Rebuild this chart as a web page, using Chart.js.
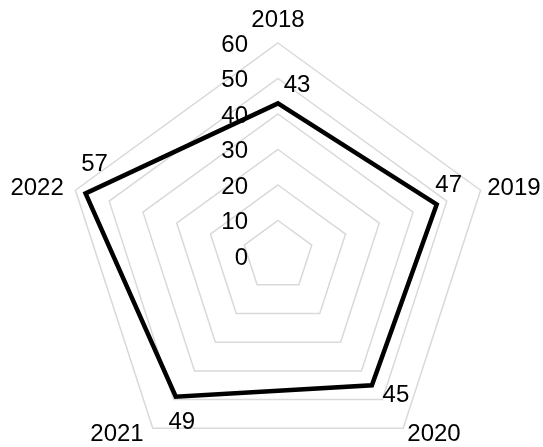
<!DOCTYPE html>
<html>
<head>
<meta charset="utf-8">
<script src="https://cdn.jsdelivr.net/npm/chart.js@4/dist/chart.umd.min.js"></script>
<style>
  html, body { margin: 0; padding: 0; background: #fff; overflow: hidden; }
  #wrap { width: 543px; height: 470px; position: relative; }
</style>
</head>
<body>
<div id="wrap"><canvas id="chart"></canvas></div>
<script>
const years = ['2018', '2019', '2020', '2021', '2022'];
const values = [43, 47, 45, 49, 57];
const tickValues = [0, 10, 20, 30, 40, 50, 60];

const FONT = '24px "Liberation Sans", Arial, sans-serif';

// draws tick labels, point labels and value labels on top of the line
const labelsPlugin = {
  id: 'labels',
  afterDatasetsDraw(chart, args, opts) {
    const ctx = chart.ctx;
    const r = chart.scales.r;
    ctx.save();
    ctx.font = FONT;
    ctx.fillStyle = '#000';

    // tick labels, left of the vertical axis
    ctx.textAlign = 'right';
    ctx.textBaseline = 'middle';
    tickValues.forEach(v => {
      const d = r.getDistanceFromCenterForValue(v);
      ctx.fillText(String(v), r.xCenter - 30, r.yCenter - d + 2);
    });

    // category labels
    years.forEach((lab, i) => {
      const p = r.getPointPosition(i, r.drawingArea + 7);
      const dx = p.x - r.xCenter;
      let x = p.x;
      let y = p.y;
      if (Math.abs(dx) < 2) {
        ctx.textAlign = 'center';
        y -= 16;
      } else if (dx > 0) {
        ctx.textAlign = 'left';
      } else {
        ctx.textAlign = 'right';
        x -= 5;
      }
      ctx.fillText(lab, x, y);
    });

    // value labels
    ctx.textAlign = 'center';
    const meta = chart.getDatasetMeta(0);
    meta.data.forEach((pt, i) => {
      const o = opts.offsets[i];
      ctx.fillText(String(values[i]), pt.x + o[0], pt.y + o[1]);
    });
    ctx.restore();
  }
};

new Chart(document.getElementById('chart'), {
  type: 'radar',
  data: {
    labels: years,
    datasets: [{
      data: values,
      borderColor: '#000',
      borderWidth: 4.5,
      borderJoinStyle: 'miter',
      backgroundColor: 'transparent',
      fill: false,
      pointRadius: 0,
      pointHoverRadius: 0
    }]
  },
  options: {
    responsive: true,
    maintainAspectRatio: false,
    animation: false,
    events: [],
    layout: {
      padding: { left: 65, right: 52, top: 43, bottom: 1 }
    },
    plugins: {
      legend: { display: false },
      tooltip: { enabled: false },
      labels: {
        offsets: [[19, -18], [12, -19], [24, 10], [6, 26], [9, -29]]
      }
    },
    scales: {
      r: {
        min: 0,
        max: 60,
        ticks: { stepSize: 10, display: false },
        pointLabels: { display: false },
        angleLines: { display: false },
        grid: { color: '#d9d9d9', lineWidth: 1.5 }
      }
    }
  },
  plugins: [labelsPlugin]
});
</script>
</body>
</html>
